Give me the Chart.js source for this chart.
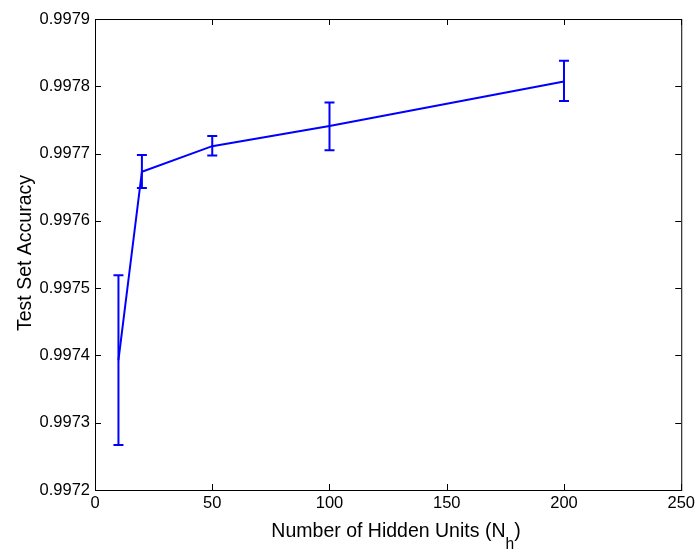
<!doctype html>
<html>
  <head>
    <title>Test Set Accuracy</title>
    <script src="https://cdn.jsdelivr.net/npm/chart.js"></script>
    <style>
      body {
        margin: 0;
        background: #fff;
      }
      canvas {
        display: block;
      }
    </style>
  </head>
  <body>
    <canvas id="chart" width="699" height="552"></canvas>

    <script>
      const hiddenUnits = [10, 20, 50, 100, 200];
      const accuracy = [0.997393, 0.997673, 0.997711, 0.997741, 0.997807];
      const errLow = [0.997267, 0.997649, 0.997697, 0.997705, 0.997778];
      const errHigh = [0.997519, 0.997698, 0.997726, 0.997776, 0.997838];
      const xTicks = [0, 50, 100, 150, 200, 250];
      const yTicks = [0.9972, 0.9973, 0.9974, 0.9975, 0.9976, 0.9977, 0.9978, 0.9979];

      const family = 'Liberation Sans, Arial, Helvetica, sans-serif';
      const font = { family, size: 16.5 };
      const titleSize = 19.5;

      // box, inward ticks, error bars and axis titles
      const matlabLook = {
        id: 'matlabLook',
        afterDatasetsDraw(chart) {
          const { ctx, chartArea: a, scales } = chart;
          const x = scales.x;
          const y = scales.y;
          ctx.save();

          // error bars
          ctx.strokeStyle = '#0000ff';
          ctx.lineWidth = 2;
          hiddenUnits.forEach((u, i) => {
            const px = x.getPixelForValue(u);
            const top = y.getPixelForValue(errHigh[i]);
            const bot = y.getPixelForValue(errLow[i]);
            ctx.beginPath();
            ctx.moveTo(px, top);
            ctx.lineTo(px, bot);
            ctx.moveTo(px - 5, top);
            ctx.lineTo(px + 5, top);
            ctx.moveTo(px - 5, bot);
            ctx.lineTo(px + 5, bot);
            ctx.stroke();
          });

          // axes box
          ctx.strokeStyle = '#000';
          ctx.lineWidth = 1;
          ctx.strokeRect(a.left + 0.5, a.top + 0.5, a.right - a.left, a.bottom - a.top);

          // ticks pointing inward
          ctx.beginPath();
          xTicks.forEach((t) => {
            const px = Math.round(x.getPixelForValue(t)) + 0.5;
            ctx.moveTo(px, a.bottom);
            ctx.lineTo(px, a.bottom - 6);
            ctx.moveTo(px, a.top);
            ctx.lineTo(px, a.top + 6);
          });
          yTicks.forEach((t) => {
            const py = Math.round(y.getPixelForValue(t)) + 0.5;
            ctx.moveTo(a.left, py);
            ctx.lineTo(a.left + 6, py);
            ctx.moveTo(a.right, py);
            ctx.lineTo(a.right - 6, py);
          });
          ctx.stroke();

          // axis titles
          ctx.fillStyle = '#000';
          ctx.textBaseline = 'alphabetic';
          const main = 'Number of Hidden Units (N';
          const sub = 'h';
          const tail = ')';
          ctx.font = `${titleSize}px ${family}`;
          const wMain = ctx.measureText(main).width;
          const wTail = ctx.measureText(tail).width;
          ctx.font = `${titleSize * 0.8}px ${family}`;
          const wSub = ctx.measureText(sub).width;
          const total = wMain + wSub + wTail;
          let sx = 396 - total / 2;
          const base = 537;
          ctx.textAlign = 'left';
          ctx.font = `${titleSize}px ${family}`;
          ctx.fillText(main, sx, base);
          sx += wMain;
          ctx.font = `${titleSize * 0.8}px ${family}`;
          ctx.fillText(sub, sx, base + 12);
          sx += wSub;
          ctx.font = `${titleSize}px ${family}`;
          ctx.fillText(tail, sx, base);

          ctx.translate(31, 253);
          ctx.rotate(-Math.PI / 2);
          ctx.textAlign = 'center';
          ctx.fillText('Test Set Accuracy', 0, 0);
          ctx.restore();
        },
      };

      new Chart(document.getElementById('chart'), {
        type: 'line',
        data: {
          datasets: [
            {
              data: hiddenUnits.map((u, i) => ({ x: u, y: accuracy[i] })),
              borderColor: '#0000ff',
              borderWidth: 2,
              pointRadius: 0,
              tension: 0,
              fill: false,
            },
          ],
        },
        options: {
          responsive: false,
          animation: false,
          layout: { padding: { left: 0, top: 19, right: 16, bottom: 0 } },
          plugins: { legend: { display: false }, tooltip: { enabled: false } },
          scales: {
            x: {
              type: 'linear',
              min: 0,
              max: 250,
              afterBuildTicks: (s) => {
                s.ticks = xTicks.map((v) => ({ value: v }));
              },
              afterFit: (s) => {
                s.height = 62;
              },
              grid: { display: false, drawTicks: false },
              border: { display: false },
              ticks: { color: '#000', font, padding: 4, maxRotation: 0 },
            },
            y: {
              min: 0.9972,
              max: 0.9979,
              afterBuildTicks: (s) => {
                s.ticks = yTicks.map((v) => ({ value: v }));
              },
              afterFit: (s) => {
                s.width = 95;
              },
              grid: { display: false, drawTicks: false },
              border: { display: false },
              ticks: {
                color: '#000',
                font,
                padding: 5,
                callback: (v) => Number(v).toFixed(4),
              },
            },
          },
        },
        plugins: [matlabLook],
      });
    </script>
  </body>
</html>
